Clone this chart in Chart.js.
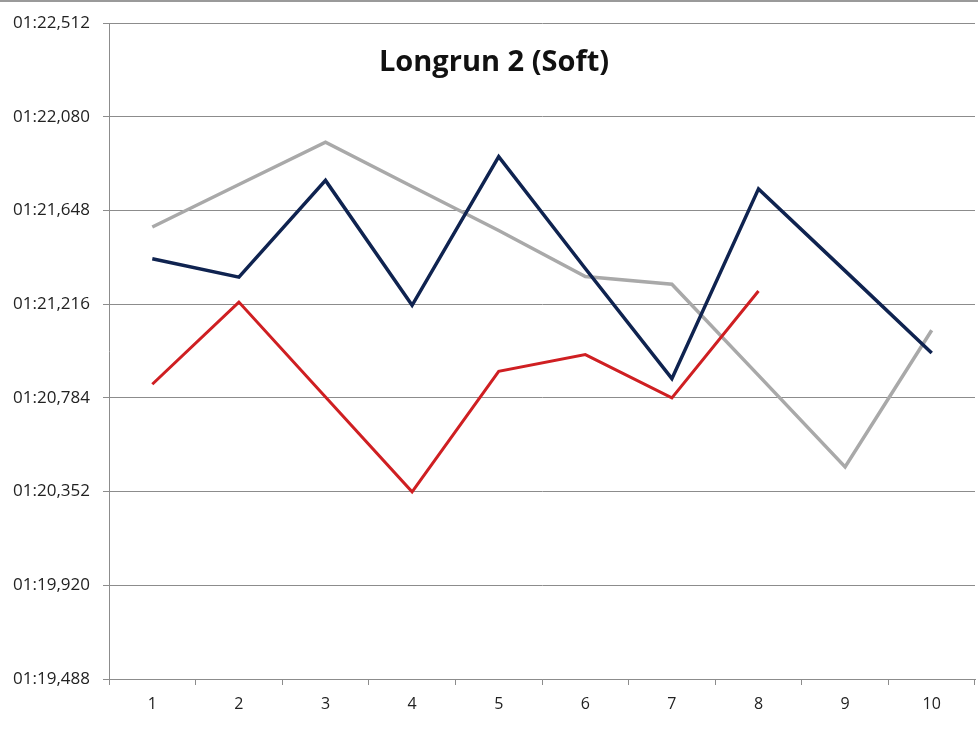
<!DOCTYPE html>
<html>
<head>
<meta charset="utf-8">
<script src="https://cdn.jsdelivr.net/npm/chart.js@4.4.0/dist/chart.umd.min.js"></script>
<style>
    body{margin:0;background:#fff;}
    #wrap{position:relative;width:978px;height:734px;}
    #topline{position:absolute;left:0;top:0;width:978px;height:2px;background:#9a9a9a;}
    #chart-title{position:absolute;left:0;width:978px;top:40px;text-align:center;padding-left:10px;box-sizing:border-box;
        font-family:'Open Sans',sans-serif;font-weight:bold;font-size:29px;color:#111;}
</style>
</head>
<body>
<div id="wrap">
    <canvas id="longrun_graph" width="978" height="734"></canvas>
    <div id="topline"></div>
    <div id="chart-title">Longrun 2 (Soft)</div>
</div>
<script>
// lap numbers
const laps = ['1','2','3','4','5','6','7','8','9','10']

// lap times in milliseconds
const driver_navy = [81426, 81341, 81787, 81211, 81897, 81381, 80873, 81748, 81370, 80991]
const driver_red = [80847, 81226, 80788, 80351, 80907, 80984, 80784, 81277]
const driver_gray = [81572, 81768, 81963, 81759, 81556, 81344, 81308, 80888, 80466, 81096]

// y axis range (ms)
const y_min = 79488
const y_max = 82512
const y_step = 432

function lap_time_label(ms){
    let m = Math.floor(ms/60000)
    let s = Math.floor((ms%60000)/1000)
    let r = Math.round(ms%1000)
    return String(m).padStart(2,'0')+':'+String(s).padStart(2,'0')+','+String(r).padStart(3,'0')
}

function load_longrun_graph(){
    const ctx = document.getElementById('longrun_graph').getContext('2d');
    const myChart = new Chart(ctx, {
    type: 'line',
    data: {
        labels: laps,
        datasets: [{
            label: 'Navy',
            data: driver_navy,
            borderColor: '#0f2350',
            borderWidth: 3.5
        },{
            label: 'Red',
            data: driver_red,
            borderColor: '#cf1f22',
            borderWidth: 3
        },{
            label: 'Gray',
            data: driver_gray,
            borderColor: '#a9a9a9',
            borderWidth: 3.5
        }]
    },
    options: {
        responsive: false,
        animation: false,
        devicePixelRatio: 1,
        layout: {
            padding: {top: 22, right: 3, bottom: 0, left: 0}
        },
        elements: {
            point: {radius: 0, hoverRadius: 0},
            line: {tension: 0, borderCapStyle: 'butt', borderJoinStyle: 'miter'}
        },
        plugins: {
            legend: {display: false},
            tooltip: {enabled: false}
        },
        scales: {
            x: {
                offset: true,
                grid: {
                    offset: true,
                    drawOnChartArea: false,
                    color: '#8c8c8c',
                    tickLength: 6
                },
                border: {color: '#8c8c8c', width: 1},
                ticks: {
                    padding: 10,
                    color: '#222',
                    font: {family: 'Open Sans', size: 16}
                },
                afterFit: function(scale){ scale.height = 55 }
            },
            y: {
                min: y_min,
                max: y_max,
                grid: {
                    color: '#8c8c8c',
                    tickLength: 6
                },
                border: {color: '#8c8c8c', width: 1},
                ticks: {
                    stepSize: y_step,
                    padding: 13,
                    color: '#222',
                    font: {family: 'Open Sans', size: 17},
                    callback: function(v){ return lap_time_label(v) }
                },
                afterFit: function(scale){ scale.width = 109 }
            }
        }
    }
});
}

load_longrun_graph()
</script>
</body>
</html>
